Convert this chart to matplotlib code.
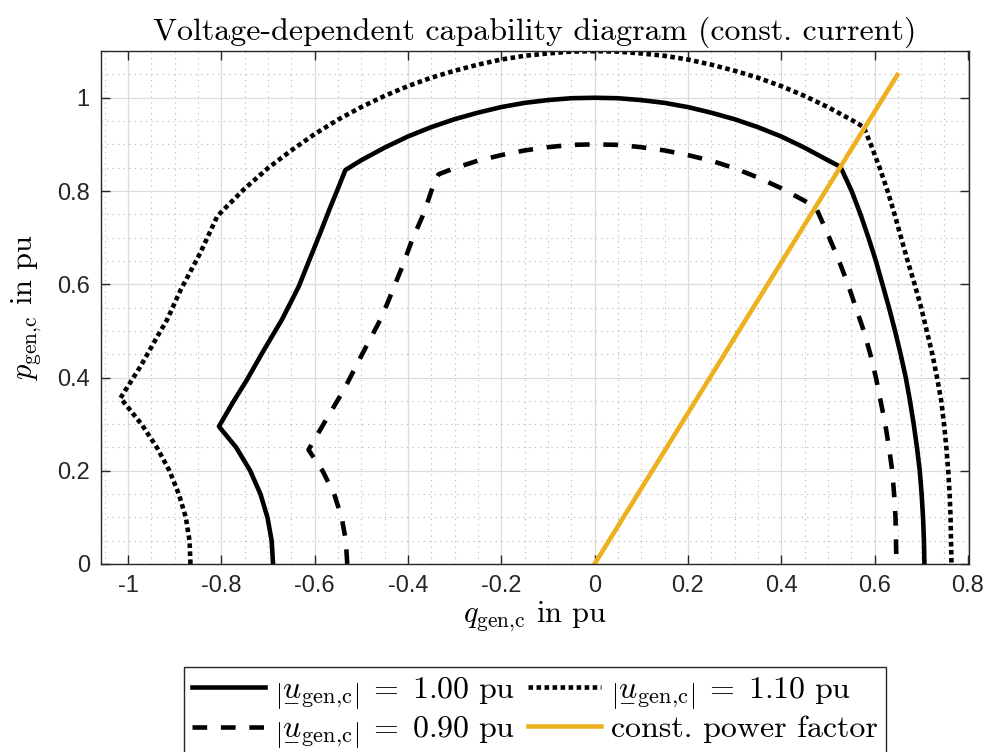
import numpy as np
from matplotlib import pyplot as plt, ticker as tk
from matplotlib.mathtext import MathTextParser

plt.rcParams['mathtext.fontset'] = 'cm'
plt.rcParams['axes.unicode_minus'] = False

# |u_gen,c| = 1.00 pu  (q, p) read along the boundary, left bottom -> top -> right bottom
q_100 = [-0.689, -0.692, -0.701, -0.716, -0.738, -0.768, -0.805,
         -0.776, -0.745, -0.708, -0.670, -0.634, -0.612, -0.591, -0.566, -0.550, -0.534,
         -0.5, -0.45, -0.4, -0.35, -0.3, -0.25, -0.2, -0.15, -0.1, -0.05, 0.0,
         0.05, 0.1, 0.15, 0.2, 0.25, 0.3, 0.35, 0.4, 0.45, 0.5, 0.527,
         0.551, 0.570, 0.587, 0.603, 0.617, 0.631, 0.644, 0.656, 0.667, 0.676,
         0.684, 0.691, 0.697, 0.701, 0.704, 0.706, 0.707]
p_100 = [0.0, 0.05, 0.10, 0.15, 0.20, 0.25, 0.295,
         0.345, 0.395, 0.460, 0.524, 0.595, 0.650, 0.702, 0.766, 0.805, 0.845,
         0.866, 0.893, 0.917, 0.937, 0.954, 0.968, 0.980, 0.989, 0.995, 0.999, 1.0,
         0.999, 0.995, 0.989, 0.980, 0.968, 0.954, 0.937, 0.917, 0.893, 0.866, 0.852,
         0.80, 0.75, 0.70, 0.65, 0.60, 0.55, 0.50, 0.45, 0.40, 0.35,
         0.30, 0.25, 0.20, 0.15, 0.10, 0.05, 0.0]

# |u_gen,c| = 0.90 pu
q_090 = [-0.530, -0.533, -0.542, -0.558, -0.583, -0.613,
         -0.575, -0.537, -0.498, -0.459, -0.444, -0.412, -0.391, -0.366, -0.344, -0.334,
         -0.3, -0.25, -0.2, -0.15, -0.1, -0.05, 0.0,
         0.05, 0.1, 0.15, 0.2, 0.25, 0.3, 0.35, 0.4, 0.45, 0.474,
         0.481, 0.503, 0.524, 0.543, 0.560, 0.577, 0.591, 0.603, 0.613,
         0.623, 0.631, 0.638, 0.642, 0.645, 0.646, 0.647]
p_090 = [0.0, 0.05, 0.10, 0.15, 0.20, 0.245,
         0.310, 0.374, 0.450, 0.524, 0.559, 0.638, 0.695, 0.752, 0.817, 0.836,
         0.849, 0.865, 0.877, 0.887, 0.894, 0.899, 0.9,
         0.899, 0.894, 0.887, 0.877, 0.865, 0.849, 0.829, 0.806, 0.779, 0.765,
         0.75, 0.70, 0.65, 0.60, 0.55, 0.50, 0.45, 0.40, 0.35,
         0.30, 0.25, 0.20, 0.15, 0.10, 0.05, 0.0]

# |u_gen,c| = 1.10 pu
q_110 = [-0.866, -0.868, -0.876, -0.891, -0.911, -0.938, -0.971, -1.016,
         -0.973, -0.937, -0.916, -0.887, -0.845, -0.809, -0.798,
         -0.75, -0.7, -0.65, -0.6, -0.55, -0.5, -0.45, -0.4, -0.35, -0.3, -0.25,
         -0.2, -0.15, -0.1, -0.05, 0.0, 0.05, 0.1, 0.15, 0.2, 0.25, 0.3, 0.35,
         0.4, 0.45, 0.5, 0.55, 0.577,
         0.592, 0.611, 0.628, 0.643, 0.657, 0.671, 0.686, 0.700, 0.712, 0.724,
         0.734, 0.743, 0.749, 0.754, 0.758, 0.761, 0.763, 0.764, 0.765]
p_110 = [0.0, 0.05, 0.10, 0.15, 0.20, 0.25, 0.30, 0.356,
         0.424, 0.488, 0.524, 0.588, 0.667, 0.745, 0.757,
         0.805, 0.849, 0.887, 0.922, 0.953, 0.980, 1.004, 1.025, 1.043, 1.058, 1.071,
         1.082, 1.090, 1.095, 1.099, 1.1, 1.099, 1.095, 1.090, 1.082, 1.071, 1.058, 1.043,
         1.025, 1.004, 0.980, 0.953, 0.937,
         0.90, 0.85, 0.80, 0.75, 0.70, 0.65, 0.60, 0.55, 0.50, 0.45,
         0.40, 0.35, 0.30, 0.25, 0.20, 0.15, 0.10, 0.05, 0.0]

# constant power factor line
q_pf = [0.0, 0.649]
p_pf = [0.0, 1.049]

x_ticks = [-1, -0.8, -0.6, -0.4, -0.2, 0, 0.2, 0.4, 0.6, 0.8]
x_labels = ['-1', '-0.8', '-0.6', '-0.4', '-0.2', '0', '0.2', '0.4', '0.6', '0.8']
y_ticks = [0, 0.2, 0.4, 0.6, 0.8, 1]
y_labels = ['0', '0.2', '0.4', '0.6', '0.8', '1']
u_levels = ['1.00', '0.90', '1.10']

CM = 'cmr10'
TICK_FONT = 'Liberation Sans'
LW = 3.3


def first_ok(cands):
	''' mathtext lacks some latex commands, keep the first one that parses '''
	parser = MathTextParser('agg')
	for cand in cands:
		try:
			parser.parse('$' + cand + '$', dpi=100)
			return cand
		except Exception:
			pass
	return cands[-1]


U = first_ok([r'\underset{-}{u}', r'\underset{\_}{u}', r'u'])
BAR_L, BAR_R = first_ok([r'\Big|x\Big|', r'\left|x\right|']).split('x')


def u_label(level):
	return '$' + BAR_L + U + r'_\mathrm{gen{,}c}' + BAR_R + r'\;=\;' + level + r'\ \mathrm{pu}$'


fig = plt.figure(figsize=(9.89, 7.52), dpi=100)
ax = fig.add_axes([0.102, 0.25, 0.878, 0.682])

kw = dict(color='k', lw=LW, solid_joinstyle='round', dash_joinstyle='round')
h100, = ax.plot(q_100, p_100, label=u_label(u_levels[0]), **kw)
h090, = ax.plot(q_090, p_090, dashes=(3.2, 3.0), label=u_label(u_levels[1]), **kw)
h110, = ax.plot(q_110, p_110, dashes=(1.0, 0.75), label=u_label(u_levels[2]), **kw)
hpf, = ax.plot(q_pf, p_pf, color='#EDB120', lw=LW, label='const. power factor')

ax.set_xlim(-1.058, 0.803)
ax.set_ylim(0, 1.1)
ax.set_xticks(x_ticks)
ax.set_xticklabels(x_labels, fontfamily=TICK_FONT, fontsize=17)
ax.set_yticks(y_ticks)
ax.set_yticklabels(y_labels, fontfamily=TICK_FONT, fontsize=17)
ax.xaxis.set_minor_locator(tk.MultipleLocator(0.05))
ax.yaxis.set_minor_locator(tk.MultipleLocator(0.05))
ax.tick_params(which='major', direction='in', length=6.5, width=1, color='#262626',
               top=True, right=True, labelcolor='#262626', pad=8)
ax.tick_params(which='minor', length=0)
ax.grid(which='major', color='#dcdcdc', lw=0.9, ls='-')
ax.grid(which='minor', color='#b4b4b4', lw=0.8, ls=(0, (1, 4)))
ax.set_axisbelow(True)
for s in ax.spines.values():
	s.set_color('#262626')
	s.set_linewidth(1.0)

ax.set_title('Voltage-dependent capability diagram (const. current)', fontfamily=CM,
             fontsize=23, pad=8)
ax.set_xlabel(r'$q_\mathrm{gen{,}c}$ in pu', fontfamily=CM, fontsize=22, labelpad=2)
ax.set_ylabel(r'$p_\mathrm{gen{,}c}$ in pu', fontfamily=CM, fontsize=22, labelpad=9)

leg = fig.legend(handles=[h100, h090, h110, hpf], loc='upper center', ncol=2,
                 bbox_to_anchor=(0.5405, 0.113), bbox_transform=fig.transFigure,
                 prop={'family': CM, 'size': 23}, fancybox=False, framealpha=1,
                 edgecolor='#262626', handlelength=2.3, handletextpad=0.3,
                 columnspacing=0.4, labelspacing=0.1, borderpad=0.25, borderaxespad=0)
leg.get_frame().set_linewidth(1.0)

fig.savefig('out.png', dpi=100)
